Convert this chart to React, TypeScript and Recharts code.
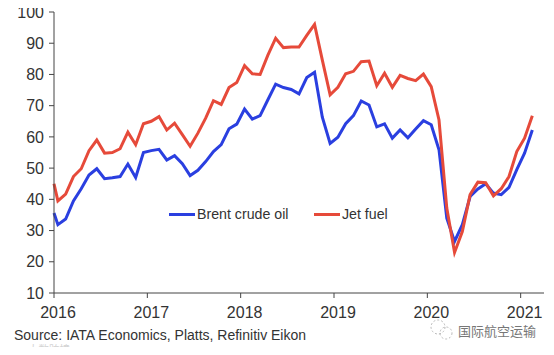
import { LineChart, Line, XAxis, YAxis, Legend } from "recharts"

// month position on the axis, 0 = start of Jan 2016 (points sit mid-month)
const months = [0, ...Array.from({ length: 62 }, (_, i) => i + 0.5)]

const brent = [
  35.6, 31.9, 33.7, 39.5, 43.4, 47.8, 49.8, 46.6, 46.9, 47.3, 51.3, 47, 55,
  55.6, 56, 52.6, 54, 51.4, 47.6, 49.3, 52.1, 55.3, 57.5, 62.6, 64.1, 68.9, 65.7, 66.8,
  71.9, 76.9, 75.8, 75.2, 73.8, 79, 80.7, 66.3, 57.9, 59.9, 64.2, 66.8, 71.5, 70.2,
  63.2, 64.2, 59.6, 62.2, 59.7, 62.5, 65.2, 63.9, 55.9, 34, 26.5, 31.9, 40.9, 43.3,
  45, 42, 41.5, 43.8, 49.5, 54.8, 62.2,
]

const jetFuel = [
  45, 39.5, 41.7, 47.3, 49.8, 55.6, 59, 54.8, 55, 56.2, 61.5, 57.5, 64.2,
  65, 66.5, 62.2, 64.4, 60.7, 57, 61.2, 66, 71.6, 70.4, 75.8, 77.4, 82.8, 80.2, 80,
  86.2, 91.6, 88.6, 88.8, 88.8, 92.5, 96, 84.6, 73.5, 75.9, 80.2, 81, 84.1, 84.3,
  76.4, 80.4, 75.9, 79.7, 78.7, 78, 80.1, 76.1, 65.4, 37.2, 23, 29.7, 41.5, 45.5,
  45.3, 41.1, 43.4, 47.3, 55.3, 59.6, 66.8,
]

const yTicks = [10, 20, 30, 40, 50, 60, 70, 80, 90, 100]
const xTicks = [0, 12, 24, 36, 48, 60]
const yearLabels = ["2016", "2017", "2018", "2019", "2020", "2021"]

const data = months.map((month, i) => ({ month, brent: brent[i], jetFuel: jetFuel[i] }))

const font = "'Liberation Sans', Arial, sans-serif"
const axisColor = "#444"
const textColor = "#333"

export default function App() {
  return (
    <div style={{ position: "relative", width: 554, height: 355, margin: -8, background: "#fff", overflow: "hidden", fontFamily: font }}>
      <LineChart width={554} height={355} data={data} margin={{ top: 12, right: 10, left: 0, bottom: 0 }}>
        <XAxis
          dataKey="month"
          type="number"
          domain={[0, 63]}
          ticks={xTicks}
          tickFormatter={(v: number) => yearLabels[xTicks.indexOf(v)]}
          interval={0}
          height={62}
          tickSize={5}
          tickMargin={9}
          stroke={axisColor}
          tick={{ fill: textColor, fontSize: 16, fontFamily: font, dx: 4 }}
        />
        <YAxis
          domain={[10, 100]}
          ticks={yTicks}
          interval={0}
          width={54}
          tickSize={5}
          tickMargin={5}
          stroke={axisColor}
          tick={{ fill: textColor, fontSize: 16, fontFamily: font }}
        />
        <Legend
          layout="horizontal"
          align="center"
          verticalAlign="middle"
          content={() => (
            <div style={{ display: "flex", alignItems: "center", fontSize: 14.2, color: textColor, fontFamily: font }}>
              <span style={{ width: 26, height: 3, background: "#2a3fe0", marginRight: 2 }} />
              <span style={{ width: 117 }}>Brent crude oil</span>
              <span style={{ width: 26, height: 3, background: "#e64a3a", marginRight: 2 }} />
              <span>Jet fuel</span>
            </div>
          )}
          wrapperStyle={{ left: 169, top: 206, width: 260 }}
        />
        <Line dataKey="brent" type="linear" stroke="#2a3fe0" strokeWidth={3} dot={false} isAnimationActive={false} />
        <Line dataKey="jetFuel" type="linear" stroke="#e64a3a" strokeWidth={3} dot={false} isAnimationActive={false} />
      </LineChart>
      <div style={{ position: "absolute", left: 14, top: 327, fontSize: 14, lineHeight: "16px", color: textColor, whiteSpace: "nowrap" }}>
        Source: IATA Economics, Platts, Refinitiv Eikon
      </div>
      {/* watermarks */}
      <div style={{ position: "absolute", left: 28, top: 343, fontSize: 10.5, lineHeight: "12px", color: "#d4d4d4", whiteSpace: "nowrap", fontFamily: "'Noto Sans CJK SC'" }}>
        大数跨境
      </div>
      <svg style={{ position: "absolute", left: 428, top: 318, overflow: "visible" }} width={28} height={24}>
        <circle cx={10} cy={9} r={7} fill="none" stroke="#aaa" strokeWidth={0.8} strokeDasharray="2 2" />
        <circle cx={18} cy={15} r={6} fill="none" stroke="#aaa" strokeWidth={0.8} strokeDasharray="2 2" />
      </svg>
      <div style={{ position: "absolute", left: 458, top: 321, fontSize: 13, color: "#777", whiteSpace: "nowrap", fontFamily: "'Noto Sans CJK SC'" }}>
        国际航空运输
      </div>
    </div>
  )
}
